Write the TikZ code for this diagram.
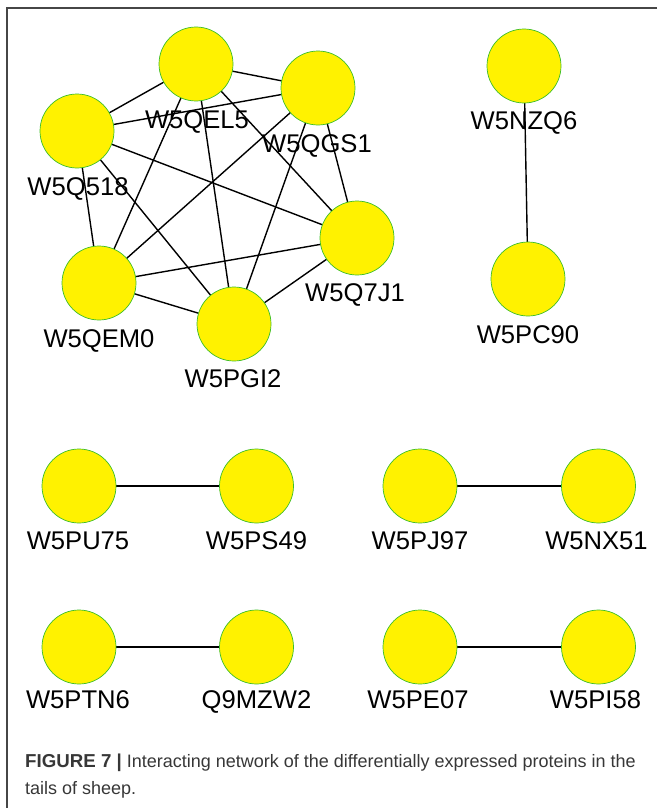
\documentclass[tikz,border=0pt]{standalone}
\usepackage{fontspec}
\setmainfont{Liberation Sans}
\usetikzlibrary{backgrounds}
\definecolor{rimgreen}{RGB}{60,190,40}
\definecolor{captext}{RGB}{55,55,55}
\definecolor{framegray}{RGB}{70,70,70}

\begin{document}
\begin{tikzpicture}[x=1pt,y=-1pt,
  prot/.style={circle, draw=rimgreen, line width=0.7pt, fill=yellow,
    minimum size=74pt, inner sep=0pt},
  lbl/.style={anchor=base, inner sep=0pt, font=\fontsize{25.6}{28}\selectfont},
  link/.style={line width=1.4pt, black}]
\useasboundingbox (0,0) rectangle (657,808);

% open frame: top and left rules
\coordinate (frameTL) at (7,8);
\coordinate (frameTR) at (657,8);
\coordinate (frameBL) at (7,808);
\draw[framegray, line width=1.1pt] (frameTR) -- (frameTL) -- (frameBL);

% fully connected cluster of six proteins
\node[prot] (qel5) at (196,64) {};
\node[prot] (qgs1) at (318,88) {};
\node[prot] (q518) at (77,131) {};
\node[prot] (q7j1) at (357,238) {};
\node[prot] (qem0) at (99,283) {};
\node[prot] (pgi2) at (234,324) {};

\node[lbl] (lqel5) at (197,128) {W5QEL5};
\node[lbl] (lqgs1) at (317,152) {W5QGS1};
\node[lbl] (lq518) at (78,195) {W5Q518};
\node[lbl] (lq7j1) at (355,301) {W5Q7J1};
\node[lbl] (lqem0) at (99,347) {W5QEM0};
\node[lbl] (lpgi2) at (233,387) {W5PGI2};

% vertical pair
\node[prot] (nzq6) at (524,66) {};
\node[prot] (pc90) at (528,279) {};
\node[lbl] (lnzq6) at (524,129) {W5NZQ6};
\node[lbl] (lpc90) at (528,343) {W5PC90};

% horizontal pairs
\node[prot] (pu75) at (79,486) {};
\node[prot] (ps49) at (256.5,486) {};
\node[prot] (pj97) at (420,486) {};
\node[prot] (nx51) at (598.5,486) {};
\node[prot] (ptn6) at (79,647) {};
\node[prot] (mzw2) at (256.5,647) {};
\node[prot] (pe07) at (420,647) {};
\node[prot] (pi58) at (598.5,647) {};

\node[lbl] (lpu75) at (78,549) {W5PU75};
\node[lbl] (lps49) at (256.5,549) {W5PS49};
\node[lbl] (lpj97) at (420,549) {W5PJ97};
\node[lbl] (lnx51) at (596.5,549) {W5NX51};
\node[lbl] (lptn6) at (78,708) {W5PTN6};
\node[lbl] (lmzw2) at (256.5,708) {Q9MZW2};
\node[lbl] (lpe07) at (418,708) {W5PE07};
\node[lbl] (lpi58) at (595.5,708) {W5PI58};

% interactions, behind the nodes
\begin{pgfonlayer}{background}
  \foreach \a/\b in {qel5/qgs1, qel5/q518, qel5/q7j1, qel5/qem0, qel5/pgi2,
                     qgs1/q518, qgs1/q7j1, qgs1/qem0, qgs1/pgi2,
                     q518/q7j1, q518/qem0, q518/pgi2,
                     q7j1/qem0, q7j1/pgi2, qem0/pgi2,
                     nzq6/pc90, pu75/ps49, pj97/nx51, ptn6/mzw2, pe07/pi58}
    \draw[link] (\a.center) -- (\b.center);
\end{pgfonlayer}

% caption
\node[anchor=base west, inner sep=0pt, text=captext] (cap1) at (25,767)
  {\fontsize{18}{27}\selectfont\textbf{\fontsize{18.7}{27}\selectfont FIGURE 7 |} Interacting network of the differentially expressed proteins in the};
\node[anchor=base west, inner sep=0pt, text=captext] (cap2) at (25,794)
  {\fontsize{18}{27}\selectfont tails of sheep.};
\end{tikzpicture}
\end{document}
